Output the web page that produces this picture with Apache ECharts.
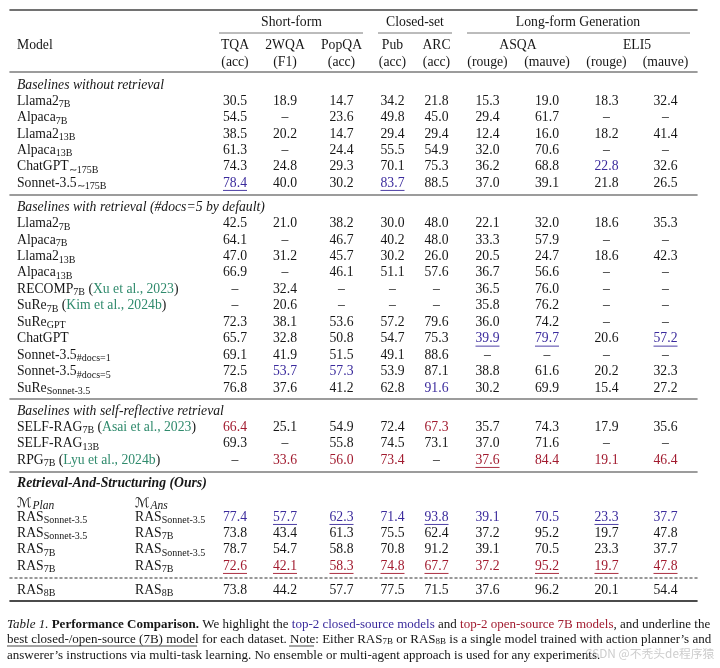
<!DOCTYPE html>
<html>
<head>
<meta charset="utf-8">
<style>
  html, body { margin: 0; padding: 0; background: #fff; }
  #chart { width: 720px; height: 668px; }
</style>
<script src="https://cdn.jsdelivr.net/npm/echarts@6/dist/echarts.min.js"></script>
</head>
<body>
<div id="chart"></div>
<script>
// table content
const groupHeaders = ['Short-form', 'Closed-set', 'Long-form Generation'];
const metricNames = ['TQA', '2WQA', 'PopQA', 'Pub', 'ARC'];
const metricUnits = ['(acc)', '(F1)', '(acc)', '(acc)', '(acc)', '(rouge)', '(mauve)', '(rouge)', '(mauve)'];
const longFormNames = ['ASQA', 'ELI5'];

const noRetrievalModels = ['Llama2{sub|7B}', 'Alpaca{sub|7B}', 'Llama2{sub|13B}', 'Alpaca{sub|13B}', 'ChatGPT{sub|∼175B}', 'Sonnet-3.5{sub|∼175B}'];
const noRetrievalValues = [
  ['30.5', '18.9', '14.7', '34.2', '21.8', '15.3', '19.0', '18.3', '32.4'],
  ['54.5', '–', '23.6', '49.8', '45.0', '29.4', '61.7', '–', '–'],
  ['38.5', '20.2', '14.7', '29.4', '29.4', '12.4', '16.0', '18.2', '41.4'],
  ['61.3', '–', '24.4', '55.5', '54.9', '32.0', '70.6', '–', '–'],
  ['74.3', '24.8', '29.3', '70.1', '75.3', '36.2', '68.8', '22.8', '32.6'],
  ['78.4', '40.0', '30.2', '83.7', '88.5', '37.0', '39.1', '21.8', '26.5']
];
const noRetrievalBlue = ['5:0', '5:3', '4:7'];
const noRetrievalRed = [];
const noRetrievalUnderline = ['5:0', '5:3'];

const retrievalModels = ['Llama2{sub|7B}', 'Alpaca{sub|7B}', 'Llama2{sub|13B}', 'Alpaca{sub|13B}', 'RECOMP{sub|7B} ({cite|Xu et al., 2023})', 'SuRe{sub|7B} ({cite|Kim et al., 2024b})', 'SuRe{sub|GPT}', 'ChatGPT', 'Sonnet-3.5{sub|#docs=1}', 'Sonnet-3.5{sub|#docs=5}', 'SuRe{sub|Sonnet-3.5}'];
const retrievalValues = [
  ['42.5', '21.0', '38.2', '30.0', '48.0', '22.1', '32.0', '18.6', '35.3'],
  ['64.1', '–', '46.7', '40.2', '48.0', '33.3', '57.9', '–', '–'],
  ['47.0', '31.2', '45.7', '30.2', '26.0', '20.5', '24.7', '18.6', '42.3'],
  ['66.9', '–', '46.1', '51.1', '57.6', '36.7', '56.6', '–', '–'],
  ['–', '32.4', '–', '–', '–', '36.5', '76.0', '–', '–'],
  ['–', '20.6', '–', '–', '–', '35.8', '76.2', '–', '–'],
  ['72.3', '38.1', '53.6', '57.2', '79.6', '36.0', '74.2', '–', '–'],
  ['65.7', '32.8', '50.8', '54.7', '75.3', '39.9', '79.7', '20.6', '57.2'],
  ['69.1', '41.9', '51.5', '49.1', '88.6', '–', '–', '–', '–'],
  ['72.5', '53.7', '57.3', '53.9', '87.1', '38.8', '61.6', '20.2', '32.3'],
  ['76.8', '37.6', '41.2', '62.8', '91.6', '30.2', '69.9', '15.4', '27.2']
];
const retrievalBlue = ['7:5', '7:6', '7:8', '9:1', '9:2', '10:4'];
const retrievalRed = [];
const retrievalUnderline = ['7:5', '7:6', '7:8'];

const selfReflectiveModels = ['SELF-RAG{sub|7B} ({cite|Asai et al., 2023})', 'SELF-RAG{sub|13B}', 'RPG{sub|7B} ({cite|Lyu et al., 2024b})'];
const selfReflectiveValues = [
  ['66.4', '25.1', '54.9', '72.4', '67.3', '35.7', '74.3', '17.9', '35.6'],
  ['69.3', '–', '55.8', '74.5', '73.1', '37.0', '71.6', '–', '–'],
  ['–', '33.6', '56.0', '73.4', '–', '37.6', '84.4', '19.1', '46.4']
];
const selfReflectiveBlue = [];
const selfReflectiveRed = ['0:0', '0:4', '2:1', '2:2', '2:3', '2:5', '2:6', '2:7', '2:8'];
const selfReflectiveUnderline = ['2:5'];

const rasPlanModels = ['RAS{sub|Sonnet-3.5}', 'RAS{sub|Sonnet-3.5}', 'RAS{sub|7B}', 'RAS{sub|7B}'];
const rasAnsModels = ['RAS{sub|Sonnet-3.5}', 'RAS{sub|7B}', 'RAS{sub|Sonnet-3.5}', 'RAS{sub|7B}'];
const rasValues = [
  ['77.4', '57.7', '62.3', '71.4', '93.8', '39.1', '70.5', '23.3', '37.7'],
  ['73.8', '43.4', '61.3', '75.5', '62.4', '37.2', '95.2', '19.7', '47.8'],
  ['78.7', '54.7', '58.8', '70.8', '91.2', '39.1', '70.5', '23.3', '37.7'],
  ['72.6', '42.1', '58.3', '74.8', '67.7', '37.2', '95.2', '19.7', '47.8']
];
const rasBlue = ['0:0', '0:1', '0:2', '0:3', '0:4', '0:5', '0:6', '0:7', '0:8'];
const rasRed = ['3:0', '3:1', '3:2', '3:3', '3:4', '3:5', '3:6', '3:7', '3:8'];
const rasUnderline = ['0:1', '0:2', '0:4', '0:7', '3:0', '3:1', '3:2', '3:3', '3:4', '3:6', '3:7', '3:8'];

const ras8bPlanModels = ['RAS{sub|8B}'];
const ras8bAnsModels = ['RAS{sub|8B}'];
const ras8bValues = [['73.8', '44.2', '57.7', '77.5', '71.5', '37.6', '96.2', '20.1', '54.4']];

const captionLines = [
  '{it|Table 1.} {bold|Performance Comparison.} We highlight the {blue|top-2 closed-source models} and {red|top-2 open-source 7B models}, and underline the',
  'best closed-/open-source (7B) model for each dataset. Note: Either RAS{capsub|7B} or RAS{capsub|8B} is a single model trained with action planner’s and',
  'answerer’s instructions via multi-task learning. No ensemble or multi-agent approach is used for any experiments.'
];

// layout
const columnCenters = [235, 285, 341.5, 392.5, 436.5, 487.5, 547, 606.5, 665.5];
const groupCenters = [291.5, 415, 578];
const groupSpans = [[219, 363], [378, 452], [467, 690]];
const longFormCenters = [518, 637];

const SERIF = '"Liberation Serif", "Times New Roman", serif';
const BLACK = '#161616';
const BLUE = '#3a2a9c';
const RED = '#a11a2e';
const GREEN = '#2f8a6c';
const CAPTION_SIZE = 13;

// axis labels read color, raw zrender text reads fill
const rich = {
  sub: { fontFamily: SERIF, fontSize: 10, color: BLACK, fill: BLACK, verticalAlign: 'bottom', lineHeight: 11 },
  cite: { fontFamily: SERIF, fontSize: 13.7, color: GREEN, fill: GREEN },
  section: { fontFamily: SERIF, fontSize: 13.7, fontStyle: 'italic', color: BLACK, fill: BLACK },
  ours: { fontFamily: SERIF, fontSize: 13.7, fontStyle: 'italic', fontWeight: 'bold', color: BLACK, fill: BLACK },
  script: { fontFamily: '"DejaVu Sans", serif', fontSize: 13.5, color: BLACK, fill: BLACK },
  subIt: { fontFamily: SERIF, fontSize: 11.5, fontStyle: 'italic', color: BLACK, fill: BLACK, verticalAlign: 'bottom', lineHeight: 13, padding: [0, 0, 0, 1] }
};

function markedCells(values, blue, red, underline, firstRow) {
  const cells = [];
  values.forEach((row, r) => row.forEach((text, c) => {
    const key = r + ':' + c;
    cells.push({
      x: columnCenters[c],
      row: r + firstRow,
      text: text,
      color: blue.includes(key) ? BLUE : red.includes(key) ? RED : BLACK,
      underline: underline.includes(key)
    });
  }));
  return cells;
}

const metricCells = [];
metricNames.forEach((t, i) => metricCells.push({ x: columnCenters[i], row: 0, text: t, color: BLACK }));
longFormNames.forEach((t, i) => metricCells.push({ x: longFormCenters[i], row: 0, text: t, color: BLACK }));
metricUnits.forEach((t, i) => metricCells.push({ x: columnCenters[i], row: 1, text: t, color: BLACK }));

const groupCells = groupHeaders.map((t, i) => ({ x: groupCenters[i], row: 0, text: t, color: BLACK, span: groupSpans[i] }));

const planAnsHeadCells = [{ x: 135, row: 1, text: '{script|ℳ}{subIt|Ans}', color: BLACK, align: 'left' }];
const rasAnsCells = rasAnsModels.map((t, i) => ({ x: 135, row: i, text: t, color: BLACK, align: 'left' }));
const ras8bAnsCells = ras8bAnsModels.map((t, i) => ({ x: 135, row: i, text: t, color: BLACK, align: 'left' }));

const GREY_RULE = { color: '#7c7c7c', width: 1.6 };

// one grid per table block; its x axis line is the rule under the block
const panels = [
  { top: 11, height: 22, labels: [''], cells: groupCells },
  { top: 36.5, height: 34, labels: ['Model', ''], cells: metricCells, rule: GREY_RULE, offset: 1.5 },
  { top: 76.8, height: 114.3, labels: ['{section|Baselines without retrieval}'].concat(noRetrievalModels),
    cells: markedCells(noRetrievalValues, noRetrievalBlue, noRetrievalRed, noRetrievalUnderline, 1), rule: GREY_RULE, offset: 4 },
  { top: 198.8, height: 197.4, labels: ['{section|Baselines with retrieval (#docs=5 by default)}'].concat(retrievalModels),
    cells: markedCells(retrievalValues, retrievalBlue, retrievalRed, retrievalUnderline, 1), rule: GREY_RULE, offset: 3 },
  { top: 402.8, height: 65.3, labels: ['{section|Baselines with self-reflective retrieval}'].concat(selfReflectiveModels),
    cells: markedCells(selfReflectiveValues, selfReflectiveBlue, selfReflectiveRed, selfReflectiveUnderline, 1), rule: GREY_RULE, offset: 4 },
  { top: 473, height: 40, labels: ['{ours|Retrieval-And-Structuring (Ours)}', '{script|ℳ}{subIt|Plan}'], cells: planAnsHeadCells },
  { top: 508.8, height: 65.3, labels: rasPlanModels,
    cells: rasAnsCells.concat(markedCells(rasValues, rasBlue, rasRed, rasUnderline, 0)),
    rule: { color: '#777', width: 1.5, type: [2, 3] }, offset: 4 },
  { top: 581.8, height: 16.3, labels: ras8bPlanModels,
    cells: ras8bAnsCells.concat(markedCells(ras8bValues, [], [], [], 0)),
    rule: { color: '#111', width: 1.6 }, offset: 3 }
];

function renderCell(cells) {
  return function (params, api) {
    const cell = cells[params.dataIndex];
    const pt = api.coord([api.value(0), api.value(1)]);
    const children = [{
      type: 'text',
      style: {
        x: pt[0], y: pt[1], text: cell.text, rich: rich, fill: cell.color,
        font: '13.7px ' + SERIF, lineHeight: 17,
        align: cell.align || 'center', verticalAlign: 'middle'
      }
    }];
    if (cell.underline) {
      children.push({
        type: 'line',
        shape: { x1: pt[0] - 12, y1: pt[1] + 7.5, x2: pt[0] + 12, y2: pt[1] + 7.5 },
        style: { stroke: cell.color, lineWidth: 0.9 }
      });
    }
    if (cell.span) {
      const y = pt[1] + api.size([0, 1])[1] / 2;
      children.push({
        type: 'line',
        shape: { x1: api.coord([cell.span[0], 0])[0], y1: y, x2: api.coord([cell.span[1], 0])[0], y2: y },
        style: { stroke: '#555', lineWidth: 0.8 }
      });
    }
    return { type: 'group', children: children };
  };
}

const option = {
  animation: false,
  backgroundColor: '#fff',
  grid: panels.map(p => ({ left: 10, width: 687, top: p.top, height: p.height })),
  xAxis: panels.map((p, i) => ({
    type: 'value', gridIndex: i, min: 10, max: 697, position: 'bottom',
    offset: p.offset || 0,
    axisLine: { show: !!p.rule, onZero: false, lineStyle: p.rule || {} },
    axisTick: { show: false }, axisLabel: { show: false }, splitLine: { show: false }
  })).concat([{
    // heavy rule on top of the whole table
    type: 'value', gridIndex: 0, min: 10, max: 697, position: 'top', offset: 1,
    axisLine: { show: true, onZero: false, lineStyle: { color: '#444', width: 1.6 } },
    axisTick: { show: false }, axisLabel: { show: false }, splitLine: { show: false }
  }]),
  yAxis: panels.map((p, i) => ({
    type: 'category', gridIndex: i, inverse: true, data: p.labels,
    axisLine: { show: false }, axisTick: { show: false }, splitLine: { show: false },
    axisLabel: {
      inside: true, interval: 0, margin: 7, align: 'left', hideOverlap: false,
      fontFamily: SERIF, fontSize: 13.7, color: BLACK, lineHeight: 17, rich: rich
    }
  })),
  series: panels.map((p, i) => ({
    type: 'custom', coordinateSystem: 'cartesian2d', xAxisIndex: i, yAxisIndex: i,
    silent: true, clip: false,
    data: p.cells.map(c => [c.x, c.row]),
    encode: { x: 0, y: 1 },
    renderItem: renderCell(p.cells)
  })),
  graphic: captionLines.map((line, i) => ({
    type: 'text', left: 7, top: 618 + i * 15.5, silent: true,
    style: {
      text: line, fill: BLACK, font: CAPTION_SIZE + 'px ' + SERIF,
      rich: {
        it: { fontFamily: SERIF, fontSize: CAPTION_SIZE, fontStyle: 'italic', fill: BLACK },
        bold: { fontFamily: SERIF, fontSize: CAPTION_SIZE, fontWeight: 'bold', fill: BLACK },
        blue: { fontFamily: SERIF, fontSize: CAPTION_SIZE, fill: BLUE },
        red: { fontFamily: SERIF, fontSize: CAPTION_SIZE, fill: RED },
        capsub: { fontFamily: SERIF, fontSize: 9, fill: BLACK, verticalAlign: 'bottom' }
      }
    }
  })).concat([
    { type: 'line', silent: true, shape: { x1: 7, y1: 646, x2: 197, y2: 646 }, style: { stroke: BLACK, lineWidth: 0.8 } },
    { type: 'line', silent: true, shape: { x1: 289, y1: 646, x2: 314, y2: 646 }, style: { stroke: BLACK, lineWidth: 0.8 } },
    { type: 'text', left: 585, top: 648, silent: true,
      style: { text: 'CSDN @不秃头de程序猿', fill: 'rgba(170,170,170,0.6)', font: '11.8px "Noto Sans CJK SC", sans-serif' } }
  ])
};

const chart = echarts.init(document.getElementById('chart'), null, { renderer: 'canvas' });
chart.setOption(option);
</script>
</body>
</html>
